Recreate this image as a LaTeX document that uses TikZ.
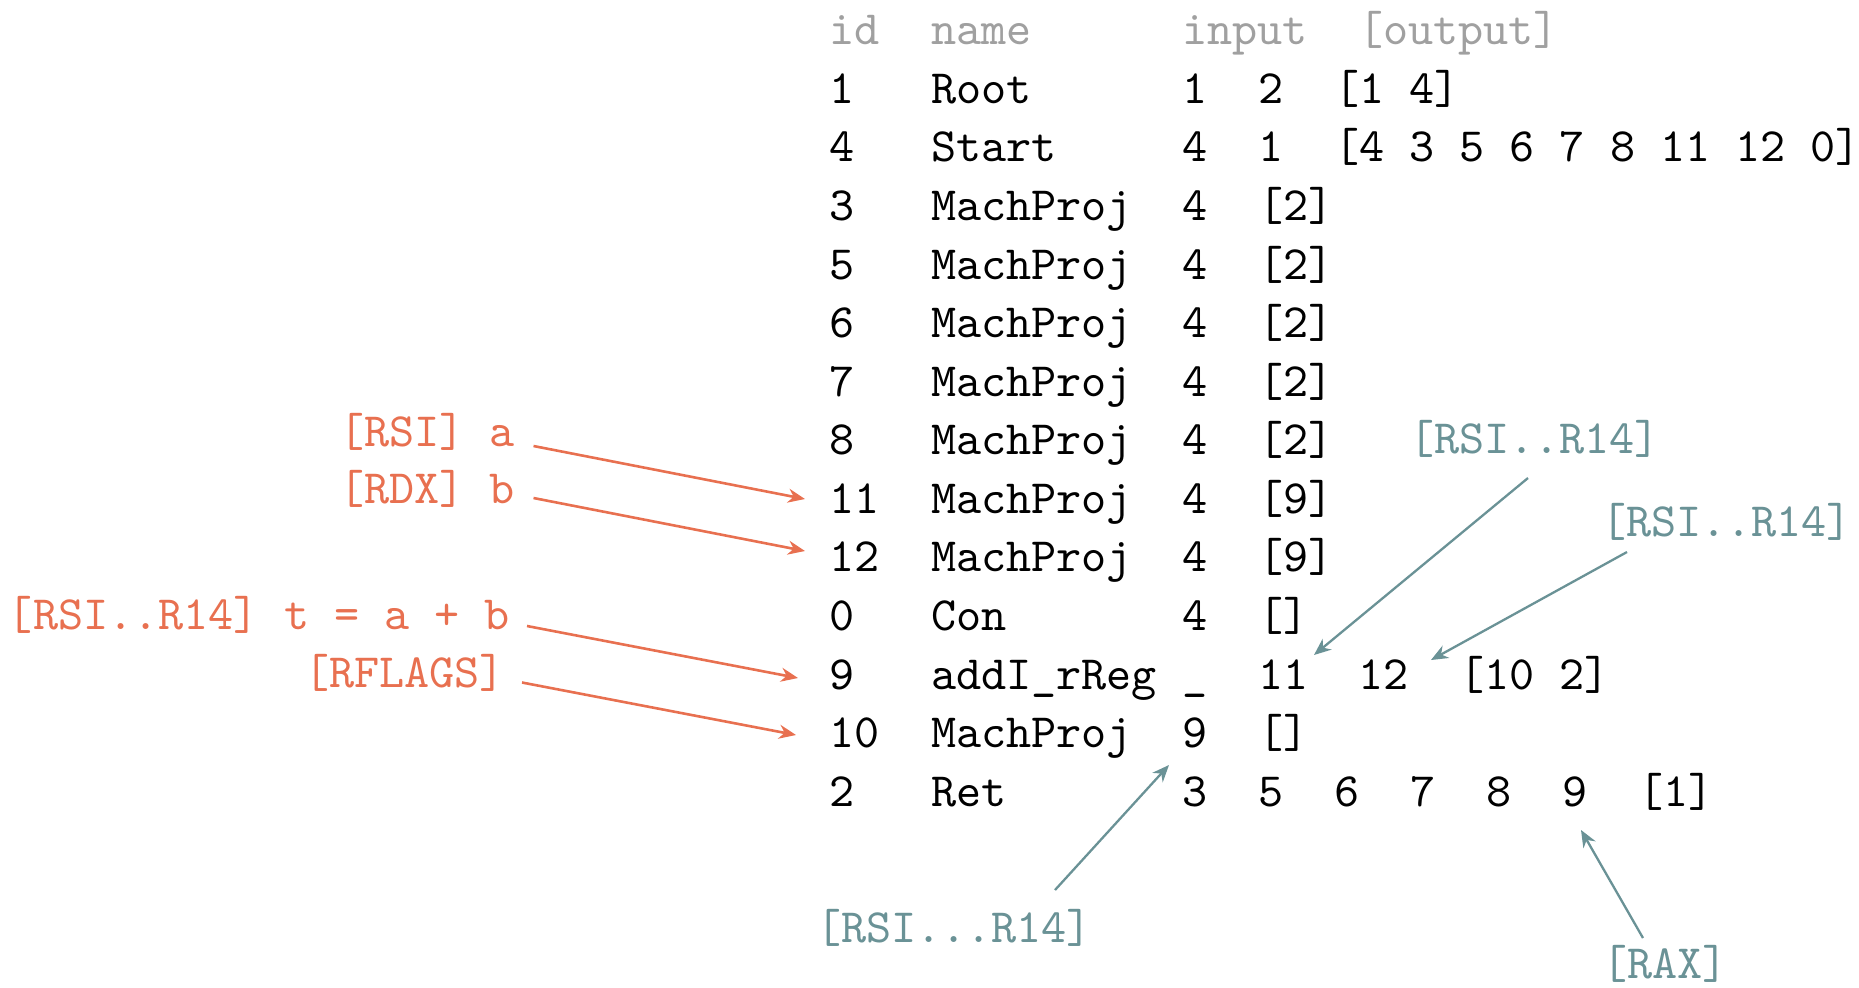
\documentclass[tikz,border=0pt]{standalone}
\usepackage{fontspec}
\usetikzlibrary{arrows.meta}
\newfontfamily\lmtten{lmmono10-regular.otf}
\definecolor{orng}{RGB}{232,112,80}
\definecolor{tealc}{RGB}{106,146,150}
\definecolor{hdrc}{RGB}{160,160,160}
\newcommand\tabfnt{\lmtten\fontsize{23.9pt}{28pt}\selectfont}
\tikzset{
  cell/.style={anchor=base west, inner sep=0pt, outer sep=0pt, font=\tabfnt},
  hdrcell/.style={cell, text=hdrc},
  olab/.style={cell, text=orng},
  tlab/.style={cell, text=tealc},
  oarrow/.style={draw=orng, line width=1.3pt, -{Stealth[length=8.5pt,width=7pt]}},
  tarrow/.style={draw=tealc, line width=1.15pt, -{Stealth[length=8.5pt,width=7pt]}},
}
\begin{document}
\begin{tikzpicture}[x=0.5pt,y=-0.5pt]
\useasboundingbox (0,0) rectangle (1859,987);
\def\ci{829}\def\cn{931}\def\ca{1182}\def\cb{1258}\def\cc{1334}\def\cd{1410}\def\ce{1486}\def\cf{1562}\def\cg{1638}
% header
\node[hdrcell] (h1) at (\ci,44.6) {id};
\node[hdrcell] (h2) at (\cn,44.6) {name};
\node[hdrcell] (h3) at (\ca,44.6) {input};
\node[hdrcell] (h4) at (1358,44.6) {[output]};
% row 1
\node[cell] (r1a) at (\ci,103.2) {1};
\node[cell] (r1b) at (\cn,103.2) {Root};
\node[cell] (r1c) at (\ca,103.2) {1};
\node[cell] (r1d) at (\cb,103.2) {2};
\node[cell] (r1e) at (\cc,103.2) {[1 4]};
% row 4
\node[cell] (r4a) at (\ci,161.8) {4};
\node[cell] (r4b) at (\cn,161.8) {Start};
\node[cell] (r4c) at (\ca,161.8) {4};
\node[cell] (r4d) at (\cb,161.8) {1};
\node[cell] (r4e) at (\cc,161.8) {[4 3 5 6 7 8 11 12 0]};
% rows 3 5 6 7 8
\node[cell] (r3a) at (\ci,220.4) {3};
\node[cell] (r3b) at (\cn,220.4) {MachProj};
\node[cell] (r3c) at (\ca,220.4) {4};
\node[cell] (r3d) at (\cb,220.4) {[2]};
\node[cell] (r5a) at (\ci,279.0) {5};
\node[cell] (r5b) at (\cn,279.0) {MachProj};
\node[cell] (r5c) at (\ca,279.0) {4};
\node[cell] (r5d) at (\cb,279.0) {[2]};
\node[cell] (r6a) at (\ci,337.6) {6};
\node[cell] (r6b) at (\cn,337.6) {MachProj};
\node[cell] (r6c) at (\ca,337.6) {4};
\node[cell] (r6d) at (\cb,337.6) {[2]};
\node[cell] (r7a) at (\ci,396.2) {7};
\node[cell] (r7b) at (\cn,396.2) {MachProj};
\node[cell] (r7c) at (\ca,396.2) {4};
\node[cell] (r7d) at (\cb,396.2) {[2]};
\node[cell] (r8a) at (\ci,454.7) {8};
\node[cell] (r8b) at (\cn,454.7) {MachProj};
\node[cell] (r8c) at (\ca,454.7) {4};
\node[cell] (r8d) at (\cb,454.7) {[2]};
% rows 11 12
\node[cell] (r11a) at (\ci,513.3) {11};
\node[cell] (r11b) at (\cn,513.3) {MachProj};
\node[cell] (r11c) at (\ca,513.3) {4};
\node[cell] (r11d) at (\cb,513.3) {[9]};
\node[cell] (r12a) at (\ci,571.9) {12};
\node[cell] (r12b) at (\cn,571.9) {MachProj};
\node[cell] (r12c) at (\ca,571.9) {4};
\node[cell] (r12d) at (\cb,571.9) {[9]};
% row 0
\node[cell] (r0a) at (\ci,630.5) {0};
\node[cell] (r0b) at (\cn,630.5) {Con};
\node[cell] (r0c) at (\ca,630.5) {4};
\node[cell] (r0d) at (\cb,630.5) {[]};
% row 9
\node[cell] (r9a) at (\ci,689.1) {9};
\node[cell] (r9b) at (\cn,689.1) {addI\_rReg};
\node[cell] (r9c) at (\ca,689.1) {\_};
\node[cell] (r9d) at (\cb,689.1) {11};
\node[cell] (r9e) at (1358.5,689.1) {12};
\node[cell] (r9f) at (1459,689.1) {[10 2]};
% row 10
\node[cell] (r10a) at (\ci,747.7) {10};
\node[cell] (r10b) at (\cn,747.7) {MachProj};
\node[cell] (r10c) at (\ca,747.7) {9};
\node[cell] (r10d) at (\cb,747.7) {[]};
% row 2
\node[cell] (r2a) at (\ci,806.3) {2};
\node[cell] (r2b) at (\cn,806.3) {Ret};
\node[cell] (r2c) at (\ca,806.3) {3};
\node[cell] (r2d) at (\cb,806.3) {5};
\node[cell] (r2e) at (\cc,806.3) {6};
\node[cell] (r2f) at (\cd,806.3) {7};
\node[cell] (r2g) at (\ce,806.3) {8};
\node[cell] (r2h) at (\cf,806.3) {9};
\node[cell] (r2i) at (\cg,806.3) {[1]};
% orange labels
\node[olab] (l1) at (339,446) {[RSI] a};
\node[olab] (l2) at (339,503.5) {[RDX] b};
\node[olab] (l3) at (8,629) {[RSI..R14] t = a + b};
\node[olab] (l4) at (304,687) {[RFLAGS]};
% teal labels
\node[tlab] (t1) at (1409,453) {[RSI..R14]};
\node[tlab] (t2) at (1601,536) {[RSI..R14]};
\node[tlab] (t3) at (816,942) {[RSI...R14]};
\node[tlab] (t4) at (1602,978) {[RAX]};
% arrow tips
\coordinate (e1) at (805,499);
\coordinate (e2) at (805,551);
\coordinate (e3) at (798,678);
\coordinate (e4) at (796,735);
\coordinate (eA) at (1314,655);
\coordinate (eB) at (1431,660);
\coordinate (eC) at (1169,765);
\coordinate (eD) at (1581,830);
% orange arrows
\draw[oarrow] ([shift={(194.5,0)}]l1.base west) -- (e1);
\draw[oarrow] ([shift={(194.5,-5.5)}]l2.base west) -- (e2);
\draw[oarrow] ([shift={(519,-3)}]l3.base west) -- (e3);
\draw[oarrow] ([shift={(218,-4.5)}]l4.base west) -- (e4);
% teal arrows
\draw[tarrow] ([shift={(119,25)}]t1.base west) -- (eA);
\draw[tarrow] ([shift={(26,16)}]t2.base west) -- (eB);
\draw[tarrow] ([shift={(239,-52)}]t3.base west) -- (eC);
\draw[tarrow] ([shift={(41,-40)}]t4.base west) -- (eD);
\end{tikzpicture}
\end{document}
